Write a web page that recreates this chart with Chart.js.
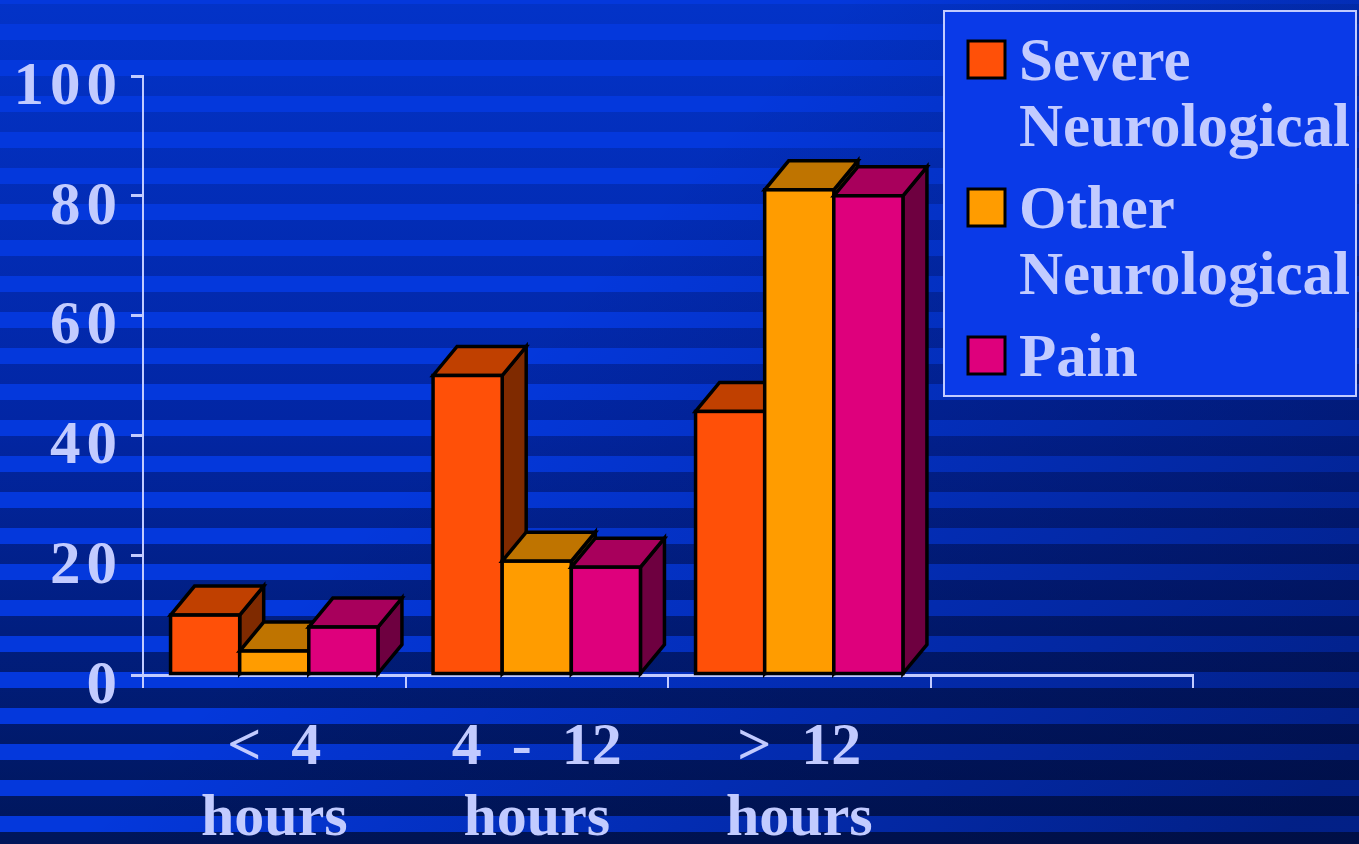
<!DOCTYPE html>
<html>
<head>
<meta charset="utf-8">
<title>Symptom onset</title>
<script src="https://cdn.jsdelivr.net/npm/chart.js@4/dist/chart.umd.min.js"></script>
<style>
  html, body { margin: 0; padding: 0; background: #0330c0; overflow: hidden; }
  canvas { display: block; }
</style>
</head>
<body>
<canvas id="chart" width="1359" height="844"></canvas>
<script>
const categories = [['<  4', 'hours'], ['4  -  12', 'hours'], ['>  12', 'hours'], ''];
const seriesNames = [['Severe', 'Neurological'], ['Other', 'Neurological'], ['Pain']];
const severeNeuro = [10, 50, 44, null];
const otherNeuro = [4, 19, 81, null];
const pain = [8, 18, 80, null];
const yTicks = [0, 20, 40, 60, 80, 100];

const textColor = '#c2cbff';
const faces = [
  { front: '#ff5008', top: '#c04000', side: '#7f2a00' },
  { front: '#ff9c00', top: '#bf7400', side: '#7f4e00' },
  { front: '#de007c', top: '#a8005c', side: '#6e0040' }
];
const depthX = 24;
const depthY = 29;

Chart.defaults.font.family = '"Liberation Serif", "Times New Roman", serif';
Chart.defaults.font.weight = 'bold';
Chart.defaults.font.size = 60;
Chart.defaults.color = textColor;

const stripes = {
  id: 'stripes',
  beforeDraw(chart) {
    const { ctx, width, height } = chart;
    ctx.save();
    const dark = ctx.createLinearGradient(0, 0, 0, height);
    dark.addColorStop(0, '#0333c8');
    dark.addColorStop(0.5, '#0226a4');
    dark.addColorStop(1, '#00165a');
    ctx.fillStyle = dark;
    ctx.fillRect(0, 0, width, height);
    ctx.fillStyle = '#0438dc';
    for (let y = -12; y < height; y += 36) {
      ctx.fillRect(0, y, width, 16);
    }
    const shade = ctx.createLinearGradient(700, 150, 1359, 750);
    shade.addColorStop(0, 'rgba(0,8,50,0)');
    shade.addColorStop(1, 'rgba(0,8,50,0.5)');
    ctx.fillStyle = shade;
    ctx.fillRect(0, 0, width, height);
    ctx.restore();
  }
};

const boxes3d = {
  id: 'boxes3d',
  afterDatasetsDraw(chart) {
    const ctx = chart.ctx;
    ctx.save();
    ctx.lineWidth = 3.5;
    ctx.strokeStyle = '#000';
    ctx.lineJoin = 'miter';
    const n = chart.data.labels.length;
    for (let j = 0; j < n; j++) {
      chart.data.datasets.forEach((ds, i) => {
        if (ds.data[j] == null) return;
        const bar = chart.getDatasetMeta(i).data[j];
        const p = bar.getProps(['x', 'y', 'base', 'width'], true);
        const l = p.x - p.width / 2, r = p.x + p.width / 2;
        const t = p.y, b = p.base;
        const f = faces[i];
        // side face
        ctx.beginPath();
        ctx.moveTo(r, t);
        ctx.lineTo(r + depthX, t - depthY);
        ctx.lineTo(r + depthX, b - depthY);
        ctx.lineTo(r, b);
        ctx.closePath();
        ctx.fillStyle = f.side;
        ctx.fill();
        ctx.stroke();
        // top face
        ctx.beginPath();
        ctx.moveTo(l, t);
        ctx.lineTo(l + depthX, t - depthY);
        ctx.lineTo(r + depthX, t - depthY);
        ctx.lineTo(r, t);
        ctx.closePath();
        ctx.fillStyle = f.top;
        ctx.fill();
        ctx.stroke();
        // front face
        ctx.fillStyle = f.front;
        ctx.fillRect(l, t, r - l, b - t);
        ctx.strokeRect(l, t, r - l, b - t);
      });
    }
    ctx.restore();
  }
};

const boxLegend = {
  id: 'boxLegend',
  afterDraw(chart) {
    const ctx = chart.ctx;
    ctx.save();
    ctx.fillStyle = '#0a3ae8';
    ctx.fillRect(943, 10, 414, 387);
    ctx.strokeStyle = '#c2cbff';
    ctx.lineWidth = 2;
    ctx.strokeRect(944, 11, 412, 385);
    ctx.font = 'bold 61px "Liberation Serif", "Times New Roman", serif';
    ctx.textBaseline = 'alphabetic';
    ctx.textAlign = 'left';
    let baseline = 80;
    seriesNames.forEach((lines, i) => {
      ctx.fillStyle = faces[i].front;
      ctx.fillRect(968, baseline - 39, 37, 37);
      ctx.lineWidth = 3;
      ctx.strokeStyle = '#000';
      ctx.strokeRect(968, baseline - 39, 37, 37);
      ctx.fillStyle = textColor;
      lines.forEach((line, k) => {
        ctx.fillText(line, 1019, baseline + k * 66);
      });
      baseline += lines.length * 66 + 16;
    });
    ctx.restore();
  }
};

// wider digit spacing on the value axis, like the original slide
function spacedLabels(scale) {
  if (scale._spaced) return;
  scale._spaced = true;
  const draw = scale.drawLabels;
  scale.drawLabels = function (area) {
    this.ctx.save();
    this.ctx.letterSpacing = '6px';
    draw.call(this, area);
    this.ctx.restore();
  };
}

new Chart(document.getElementById('chart'), {
  type: 'bar',
  data: {
    labels: categories,
    datasets: [
      { label: seriesNames[0].join(' '), data: severeNeuro },
      { label: seriesNames[1].join(' '), data: otherNeuro },
      { label: seriesNames[2].join(' '), data: pain }
    ].map((ds) => Object.assign(ds, {
      backgroundColor: 'rgba(0,0,0,0)',
      borderWidth: 0,
      barPercentage: 1,
      categoryPercentage: 0.79
    }))
  },
  options: {
    responsive: false,
    animation: false,
    layout: { padding: { top: 76, right: 166, left: 0, bottom: 0 } },
    plugins: {
      legend: { display: false },
      tooltip: { enabled: false }
    },
    scales: {
      x: {
        grid: {
          offset: true,
          drawOnChartArea: false,
          drawTicks: true,
          tickLength: 13,
          color: textColor,
          lineWidth: 2
        },
        border: { display: true, color: textColor, width: 3 },
        ticks: {
          color: textColor,
          maxRotation: 0,
          autoSkip: false,
          padding: 25,
          font: { size: 60, weight: 'bold', lineHeight: 1.18 }
        },
        afterFit(scale) { scale.height = 169; }
      },
      y: {
        min: 0,
        max: 100,
        afterBuildTicks(scale) { scale.ticks = yTicks.map((v) => ({ value: v })); },
        grid: {
          drawOnChartArea: false,
          drawTicks: true,
          tickLength: 12,
          color: textColor,
          lineWidth: 3
        },
        border: { display: true, color: textColor, width: 2 },
        ticks: {
          color: textColor,
          padding: 8,
          labelOffset: 12,
          font: { size: 61, weight: 'bold' }
        },
        afterFit(scale) { scale.width = 143; spacedLabels(scale); }
      }
    }
  },
  plugins: [stripes, boxes3d, boxLegend]
});
</script>
</body>
</html>
